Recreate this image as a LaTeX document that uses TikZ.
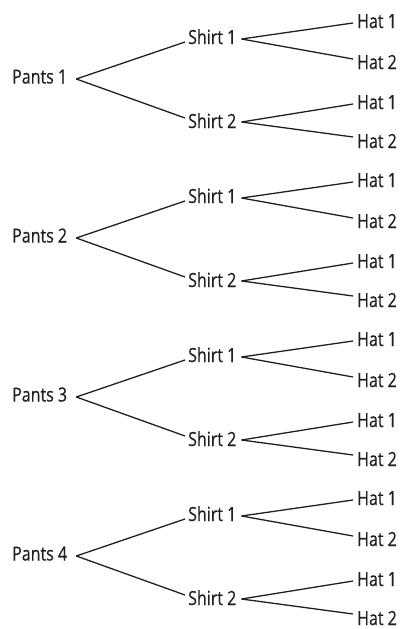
\documentclass[tikz,border=0pt]{standalone}
\usepackage{fontspec}
\setmainfont[FakeStretch=0.82, FakeBold=0.6]{Open Sans}
\definecolor{ink}{HTML}{231F20}
\begin{document}
\begin{tikzpicture}[x=1pt, y=-1pt,
  lbl/.style={inner sep=0pt, anchor=base west, text=ink,
              font=\fontsize{19.5}{22}\selectfont},
  edge/.style={draw=ink, line width=1.3pt}]
  \useasboundingbox (0,0) rectangle (401,629);
  % four identical pants -> shirt -> hat trees, stacked vertically
  \foreach \g in {1,...,4} {
    \pgfmathsetmacro\oy{(\g-1)*159}
    \node[lbl] (p\g)   at (12,  83.5+\oy) {Pants \g};
    \node[lbl] (s\g-1) at (188, 44+\oy)   {Shirt 1};
    \node[lbl] (s\g-2) at (188, 128+\oy)  {Shirt 2};
    \node[lbl] (h\g-1) at (357, 28+\oy)   {Hat 1};
    \node[lbl] (h\g-2) at (357, 69+\oy)   {Hat 2};
    \node[lbl] (h\g-3) at (357, 109+\oy)  {Hat 1};
    \node[lbl] (h\g-4) at (357, 148+\oy)  {Hat 2};
    % pants to shirts
    \draw[edge] ([xshift=9pt,yshift=4.5pt]p\g.base east) -- ([xshift=-3pt,yshift=2pt]s\g-1.base west);
    \draw[edge] ([xshift=9pt,yshift=4.5pt]p\g.base east) -- ([xshift=-3pt,yshift=10pt]s\g-2.base west);
    % shirts to hats
    \draw[edge] ([xshift=5pt,yshift=5pt]s\g-1.base east) -- ([xshift=-4pt,yshift=5pt]h\g-1.base west);
    \draw[edge] ([xshift=5pt,yshift=5pt]s\g-1.base east) -- ([xshift=-4pt,yshift=10pt]h\g-2.base west);
    \draw[edge] ([xshift=5pt,yshift=6pt]s\g-2.base east) -- ([xshift=-4pt,yshift=5pt]h\g-3.base west);
    \draw[edge] ([xshift=5pt,yshift=6pt]s\g-2.base east) -- ([xshift=-4pt,yshift=11pt]h\g-4.base west);
  }
\end{tikzpicture}
\end{document}
